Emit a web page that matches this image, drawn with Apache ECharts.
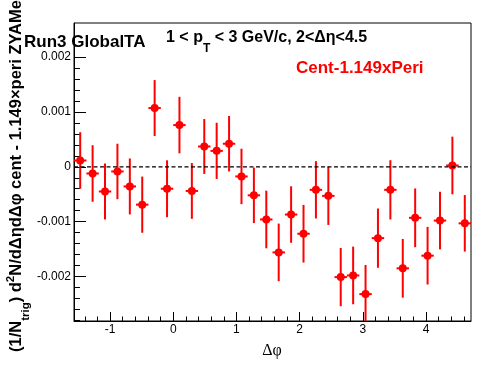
<!DOCTYPE html>
<html><head><meta charset="utf-8">
<script src="https://cdn.jsdelivr.net/npm/echarts@6/dist/echarts.min.js"></script>
<style>html,body{margin:0;padding:0;background:#fff}#c{width:496px;height:374px}</style>
</head><body><div id="c"></div>
<script>
// Bin centres (Δφ), 32 bins from -π/2 to 3π/2
const binCenters = [-1.4726,-1.2763,-1.0799,-0.8836,-0.6872,-0.4909,-0.2945,-0.0982,
  0.0982,0.2945,0.4909,0.6872,0.8836,1.0799,1.2763,1.4726,
  1.6690,1.8653,2.0617,2.2580,2.4544,2.6507,2.8471,3.0434,
  3.2398,3.4361,3.6325,3.8288,4.0252,4.2215,4.4179,4.6142];
const values = [0.000115,-0.000122,-0.00045,-0.000085,-0.000358,-0.00069,0.00107,-0.0004,
  0.00076,-0.00044,0.00037,0.00029,0.00042,-0.000176,-0.00052,-0.00096,
  -0.00156,-0.00087,-0.00122,-0.00042,-0.00053,-0.00201,-0.00198,-0.00232,
  -0.0013,-0.00042,-0.00185,-0.00093,-0.00162,-0.00098,0.000024,-0.00103];
const errors = [0.000515,0.000515,0.00051,0.000505,0.00051,0.000512,0.00051,0.000518,
  0.000515,0.000508,0.0005,0.000512,0.000505,0.000505,0.000505,0.000525,
  0.000525,0.000515,0.000525,0.000522,0.00053,0.00053,0.000525,0.00053,
  0.00054,0.00054,0.000535,0.000535,0.000525,0.000525,0.000525,0.000515];
const binHalfWidth = 0.0982;
const zeroLine = [0];
const xRange = [-Math.PI/2, 3*Math.PI/2];
const yRange = [-0.00281, 0.00262];
const xMajorTicks = [-1,0,1,2,3,4];
const xMinorTicks = [-1.4,-1.2,-0.8,-0.6,-0.4,-0.2,0.2,0.4,0.6,0.8,1.2,1.4,1.6,1.8,2.2,2.4,2.6,2.8,3.2,3.4,3.6,3.8,4.2,4.4,4.6];
const yMajorTicks = [-0.002,-0.001,0,0.001,0.002];
const yMinorTicks = [-0.0028,-0.0026,-0.0024,-0.0022,-0.0018,-0.0016,-0.0014,-0.0012,-0.0008,-0.0006,-0.0004,-0.0002,
  0.0002,0.0004,0.0006,0.0008,0.0012,0.0014,0.0016,0.0018];

const SANS = '"Liberation Sans", Arial, Helvetica, sans-serif';
const SERIF = '"Liberation Serif", "Times New Roman", serif';
const RED = '#ff0000';

const chart = echarts.init(document.getElementById('c'), null, {renderer:'canvas'});
const points = binCenters.map((x,i)=>[x, values[i], errors[i]]);

const option = {
  animation: false,
  backgroundColor: '#fff',
  grid: {left:74, right:25, top:23, bottom:53, show:true, borderColor:'#000', borderWidth:1, backgroundColor:'transparent'},
  xAxis: [
    {type:'value', min:xRange[0], max:xRange[1], position:'bottom',
     axisLine:{show:true, onZero:false, lineStyle:{color:'#000', width:1}},
     axisTick:{show:true, inside:true, length:9, customValues:xMajorTicks, lineStyle:{color:'#000'}},
     axisLabel:{show:true, customValues:xMajorTicks, margin:3, color:'#000', fontFamily:SANS, fontSize:12,
       formatter:v=>String(Math.round(v))},
     splitLine:{show:false}},
    {type:'value', min:xRange[0], max:xRange[1], position:'bottom',
     axisLine:{show:false, onZero:false},
     axisTick:{show:true, inside:true, length:4.5, customValues:xMinorTicks, lineStyle:{color:'#000'}},
     axisLabel:{show:false}, splitLine:{show:false}}
  ],
  yAxis: [
    {type:'value', min:yRange[0], max:yRange[1], position:'left',
     axisLine:{show:true, onZero:false, lineStyle:{color:'#000', width:1}},
     axisTick:{show:true, inside:true, length:12, customValues:yMajorTicks, lineStyle:{color:'#000'}},
     axisLabel:{show:true, customValues:yMajorTicks, margin:3, color:'#000', fontFamily:SANS, fontSize:12,
       formatter:v=>String(+(+v).toFixed(4))},
     splitLine:{show:false}},
    {type:'value', min:yRange[0], max:yRange[1], position:'left',
     axisLine:{show:false, onZero:false},
     axisTick:{show:true, inside:true, length:6, customValues:yMinorTicks, lineStyle:{color:'#000'}},
     axisLabel:{show:false}, splitLine:{show:false}}
  ],
  series: [
    {type:'custom', xAxisIndex:0, yAxisIndex:0, clip:true, z:2, data:points,
     renderItem:(params, api)=>{
       const x = api.value(0), y = api.value(1), e = api.value(2);
       const c = api.coord([x,y]);
       const t = api.coord([x,y+e]);
       const b = api.coord([x,y-e]);
       const l = api.coord([x-binHalfWidth,y]);
       const r = api.coord([x+binHalfWidth,y]);
       return {type:'group', children:[
         {type:'line', shape:{x1:c[0],y1:t[1],x2:c[0],y2:b[1]}, style:{stroke:RED, lineWidth:2}},
         {type:'line', shape:{x1:l[0],y1:c[1],x2:r[0],y2:c[1]}, style:{stroke:RED, lineWidth:2}},
         {type:'circle', shape:{cx:c[0],cy:c[1],r:4}, style:{fill:RED}}
       ]};
     }},
    {type:'custom', xAxisIndex:0, yAxisIndex:0, clip:true, z:3, data:zeroLine,
     renderItem:(params, api)=>{
       const v = api.value(0);
       const p = api.coord([xRange[0], v]);
       const q = api.coord([xRange[1], v]);
       return {type:'line', shape:{x1:p[0],y1:p[1],x2:q[0],y2:q[1]},
         style:{stroke:'#000', lineWidth:1.3, lineDash:[4,2.5]}};
     }}
  ],
  graphic: [
    {type:'text', x:24, y:42, style:{text:'Run3 GlobalTA', font:'bold 17px '+SANS, fill:'#000', align:'left', verticalAlign:'middle'}},
    {type:'text', x:166, y:38, style:{
      text:'{a|1 < p}{s|T}{a| < 3 GeV/c, 2<Δη<4.5}', align:'left', verticalAlign:'middle',
      rich:{a:{font:'bold 16px '+SANS, fill:'#000'}, s:{font:'bold 12px '+SANS, fill:'#000', padding:[21,0,0,0]}}}},
    {type:'text', x:296, y:68, style:{text:'Cent-1.149xPeri', font:'bold 17px '+SANS, fill:RED, align:'left', verticalAlign:'middle'}},
    {type:'text', x:272, y:351, style:{text:'Δφ', font:'16px '+SERIF, fill:'#000', align:'center', verticalAlign:'middle'}},
    {type:'text', x:16, y:352, rotation:Math.PI/2, style:{
      text:'{a|(1/N}{s|trig}{a|) d}{p|2}{a|N/dΔηdΔφ cent - 1.149×peri ZYAMed}', align:'left', verticalAlign:'middle',
      rich:{a:{font:'bold 16.5px '+SANS, fill:'#000'},
            s:{font:'bold 11.5px '+SANS, fill:'#000', padding:[20,0,0,0]},
            p:{font:'bold 11.5px '+SANS, fill:'#000', padding:[0,0,10,0]}}}}
  ]
};
chart.setOption(option);
</script>
</body></html>
